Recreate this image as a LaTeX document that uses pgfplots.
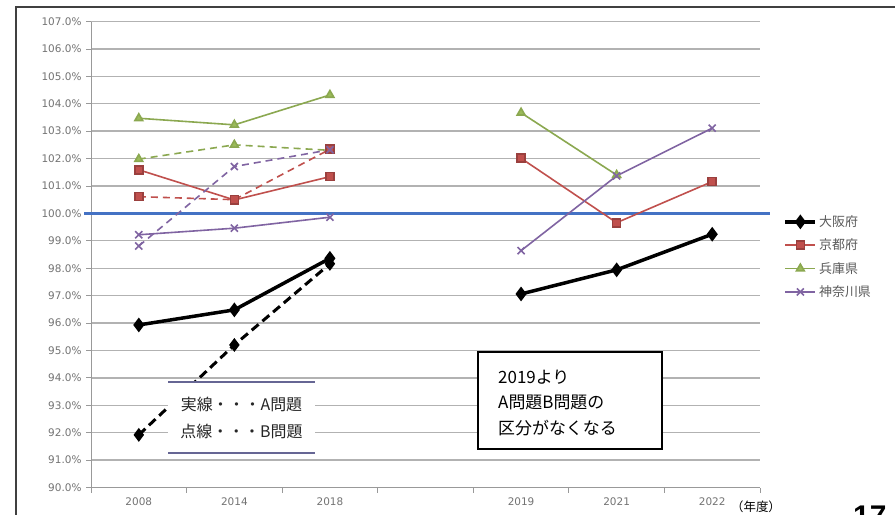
\documentclass[border=0pt]{standalone}
\usepackage{pgfplots}
\pgfplotsset{compat=1.18}
\usepackage{fontspec}
\setmainfont{Noto Sans CJK JP}
\newfontfamily\tickfont{DejaVu Sans}
\newfontfamily\numfont{Liberation Sans}
\definecolor{kred}{HTML}{C0504D}
\definecolor{hgreen}{HTML}{9BBB59}
\definecolor{kpurple}{HTML}{8064A2}
\definecolor{refblue}{HTML}{4472C4}

\begin{document}
\begin{tikzpicture}
\useasboundingbox (0,0) rectangle (895bp,-515bp);
\fill[white] (0,0) rectangle (895bp,-515bp);
\draw[line width=2bp, color=black!75] (16bp,-515bp) -- (16bp,-6.5bp) -- (895bp,-6.5bp);
\begin{axis}[
    at={(91bp,-487.5bp)}, anchor=south west,
    scale only axis, width=669bp, height=466bp,
    xmin=-0.5, xmax=6.5, ymin=90, ymax=107,
    xtick={0,...,6}, xticklabels={2008,2014,2018,,2019,2021,2022},
    minor xtick={-0.5,0.5,...,6.5},
    ytick={90,...,107},
    /pgf/number format/assume math mode=true,
    yticklabel={\pgfmathprintnumber[fixed,fixed zerofill,precision=1]{\tick}\%},
    ymajorgrids, major grid style={line width=1.3bp, color=black!30},
    axis x line*=bottom, axis y line*=left,
    axis line style={color=black!40, line width=0.8bp},
    tick align=outside, major tick length=5bp, minor tick length=5bp,
    every major x tick/.style={draw=none},
    every minor x tick/.style={color=black!40, line width=0.8bp},
    every major y tick/.style={color=black!40, line width=0.8bp},
    tick label style={font=\tickfont\fontsize{10.5}{12}\selectfont, color=black!55},
    yticklabel style={xshift=-1bp},
    xticklabel style={yshift=-2bp},
    clip=false,
    legend style={at={(1.035,0.588)}, anchor=north west, draw=none, fill=none,
        font=\fontsize{13}{14}\selectfont, text=black!65, row sep=7bp, inner sep=0pt},
    legend cell align=left,
    legend image code/.code={\draw[mark repeat=2,mark phase=2] plot coordinates {(0bp,0bp) (15bp,0bp) (30bp,0bp)};},
    osA/.style={black, line width=3.5bp, mark=diamond*, mark size=4.5bp, mark options={solid}},
    osB/.style={black, line width=3bp, dash pattern=on 9bp off 5bp, mark=diamond*, mark size=4.5bp, mark options={solid}},
    kyA/.style={kred, line width=1.6bp, mark=square*, mark size=4bp, mark options={solid, fill=kred, draw=kred!80!black}},
    kyB/.style={kred, line width=1.6bp, dash pattern=on 7bp off 5bp, mark=square*, mark size=4bp, mark options={solid, fill=kred, draw=kred!80!black}},
    hyA/.style={hgreen!90!black, line width=1.6bp, mark=triangle*, mark size=4.5bp, mark options={solid, fill=hgreen}},
    hyB/.style={hgreen!90!black, line width=1.6bp, dash pattern=on 7bp off 5bp, mark=triangle*, mark size=4.5bp, mark options={solid, fill=hgreen}},
    kaA/.style={kpurple, line width=1.6bp, mark=x, mark size=5bp, mark options={solid, line width=1.6bp}},
    kaB/.style={kpurple, line width=1.6bp, dash pattern=on 7bp off 5bp, mark=x, mark size=5bp, mark options={solid, line width=1.6bp}},
]
% 100% reference line
\addplot[refblue, line width=3bp, forget plot] coordinates {(-0.573,100) (6.6,100)};

% legend series (A problems, 2008-2018)
\addplot[osA] coordinates {(0,95.93) (1,96.48) (2,98.36)};
\addlegendentry{大阪府}
\addplot[kyA] coordinates {(0,101.59) (1,100.49) (2,101.34)};
\addlegendentry{京都府}
\addplot[hyA] coordinates {(0,103.47) (1,103.23) (2,104.32)};
\addlegendentry{兵庫県}
\addplot[kaA] coordinates {(0,99.22) (1,99.46) (2,99.86)};
\addlegendentry{神奈川県}

% B problems, 2008-2018
\addplot[hyB, forget plot] coordinates {(0,101.98) (1,102.5) (2,102.3)};
\addplot[kyB, forget plot] coordinates {(0,100.61) (1,100.5) (2,102.34)};
\addplot[kaB, forget plot] coordinates {(0,98.81) (1,101.71) (2,102.32)};
\addplot[osB, forget plot] coordinates {(0,91.92) (1,95.2) (2,98.16)};

% 2019-2022
\addplot[hyA, forget plot] coordinates {(4,103.67) (5,101.4)};
\addplot[kyA, forget plot] coordinates {(4,102.01) (5,99.66) (6,101.16)};
\addplot[kaA, forget plot] coordinates {(4,98.64) (5,101.37) (6,103.11)};
\addplot[osA, forget plot] coordinates {(4,97.06) (5,97.94) (6,99.24)};
\end{axis}

% note boxes
\fill[white] (168bp,-382bp) rectangle (315bp,-453bp);
\draw[line width=1.3bp, color=black!70!blue!60] (168bp,-382bp) -- (315bp,-382bp);
\draw[line width=1.3bp, color=black!70!blue!60] (168bp,-453bp) -- (315bp,-453bp);
\node[align=center, font=\fontsize{16}{28}\selectfont, text=black!85] at (241.5bp,-418bp) {実線・・・A問題\\点線・・・B問題};

\draw[line width=1.5bp, fill=white] (478bp,-352bp) rectangle (662bp,-449bp);
\node[anchor=west, align=left, font=\fontsize{17}{25.5}\selectfont, inner sep=0pt] at (498bp,-403bp) {2019より\\A問題B問題の\\区分がなくなる};

\node[font=\fontsize{12.5}{14}\selectfont] at (756bp,-507bp) {（年度）};
\node[anchor=north west, inner sep=0pt, font=\numfont\bfseries\fontsize{30}{30}\selectfont] at (853bp,-506bp) {17};
\end{tikzpicture}
\end{document}
